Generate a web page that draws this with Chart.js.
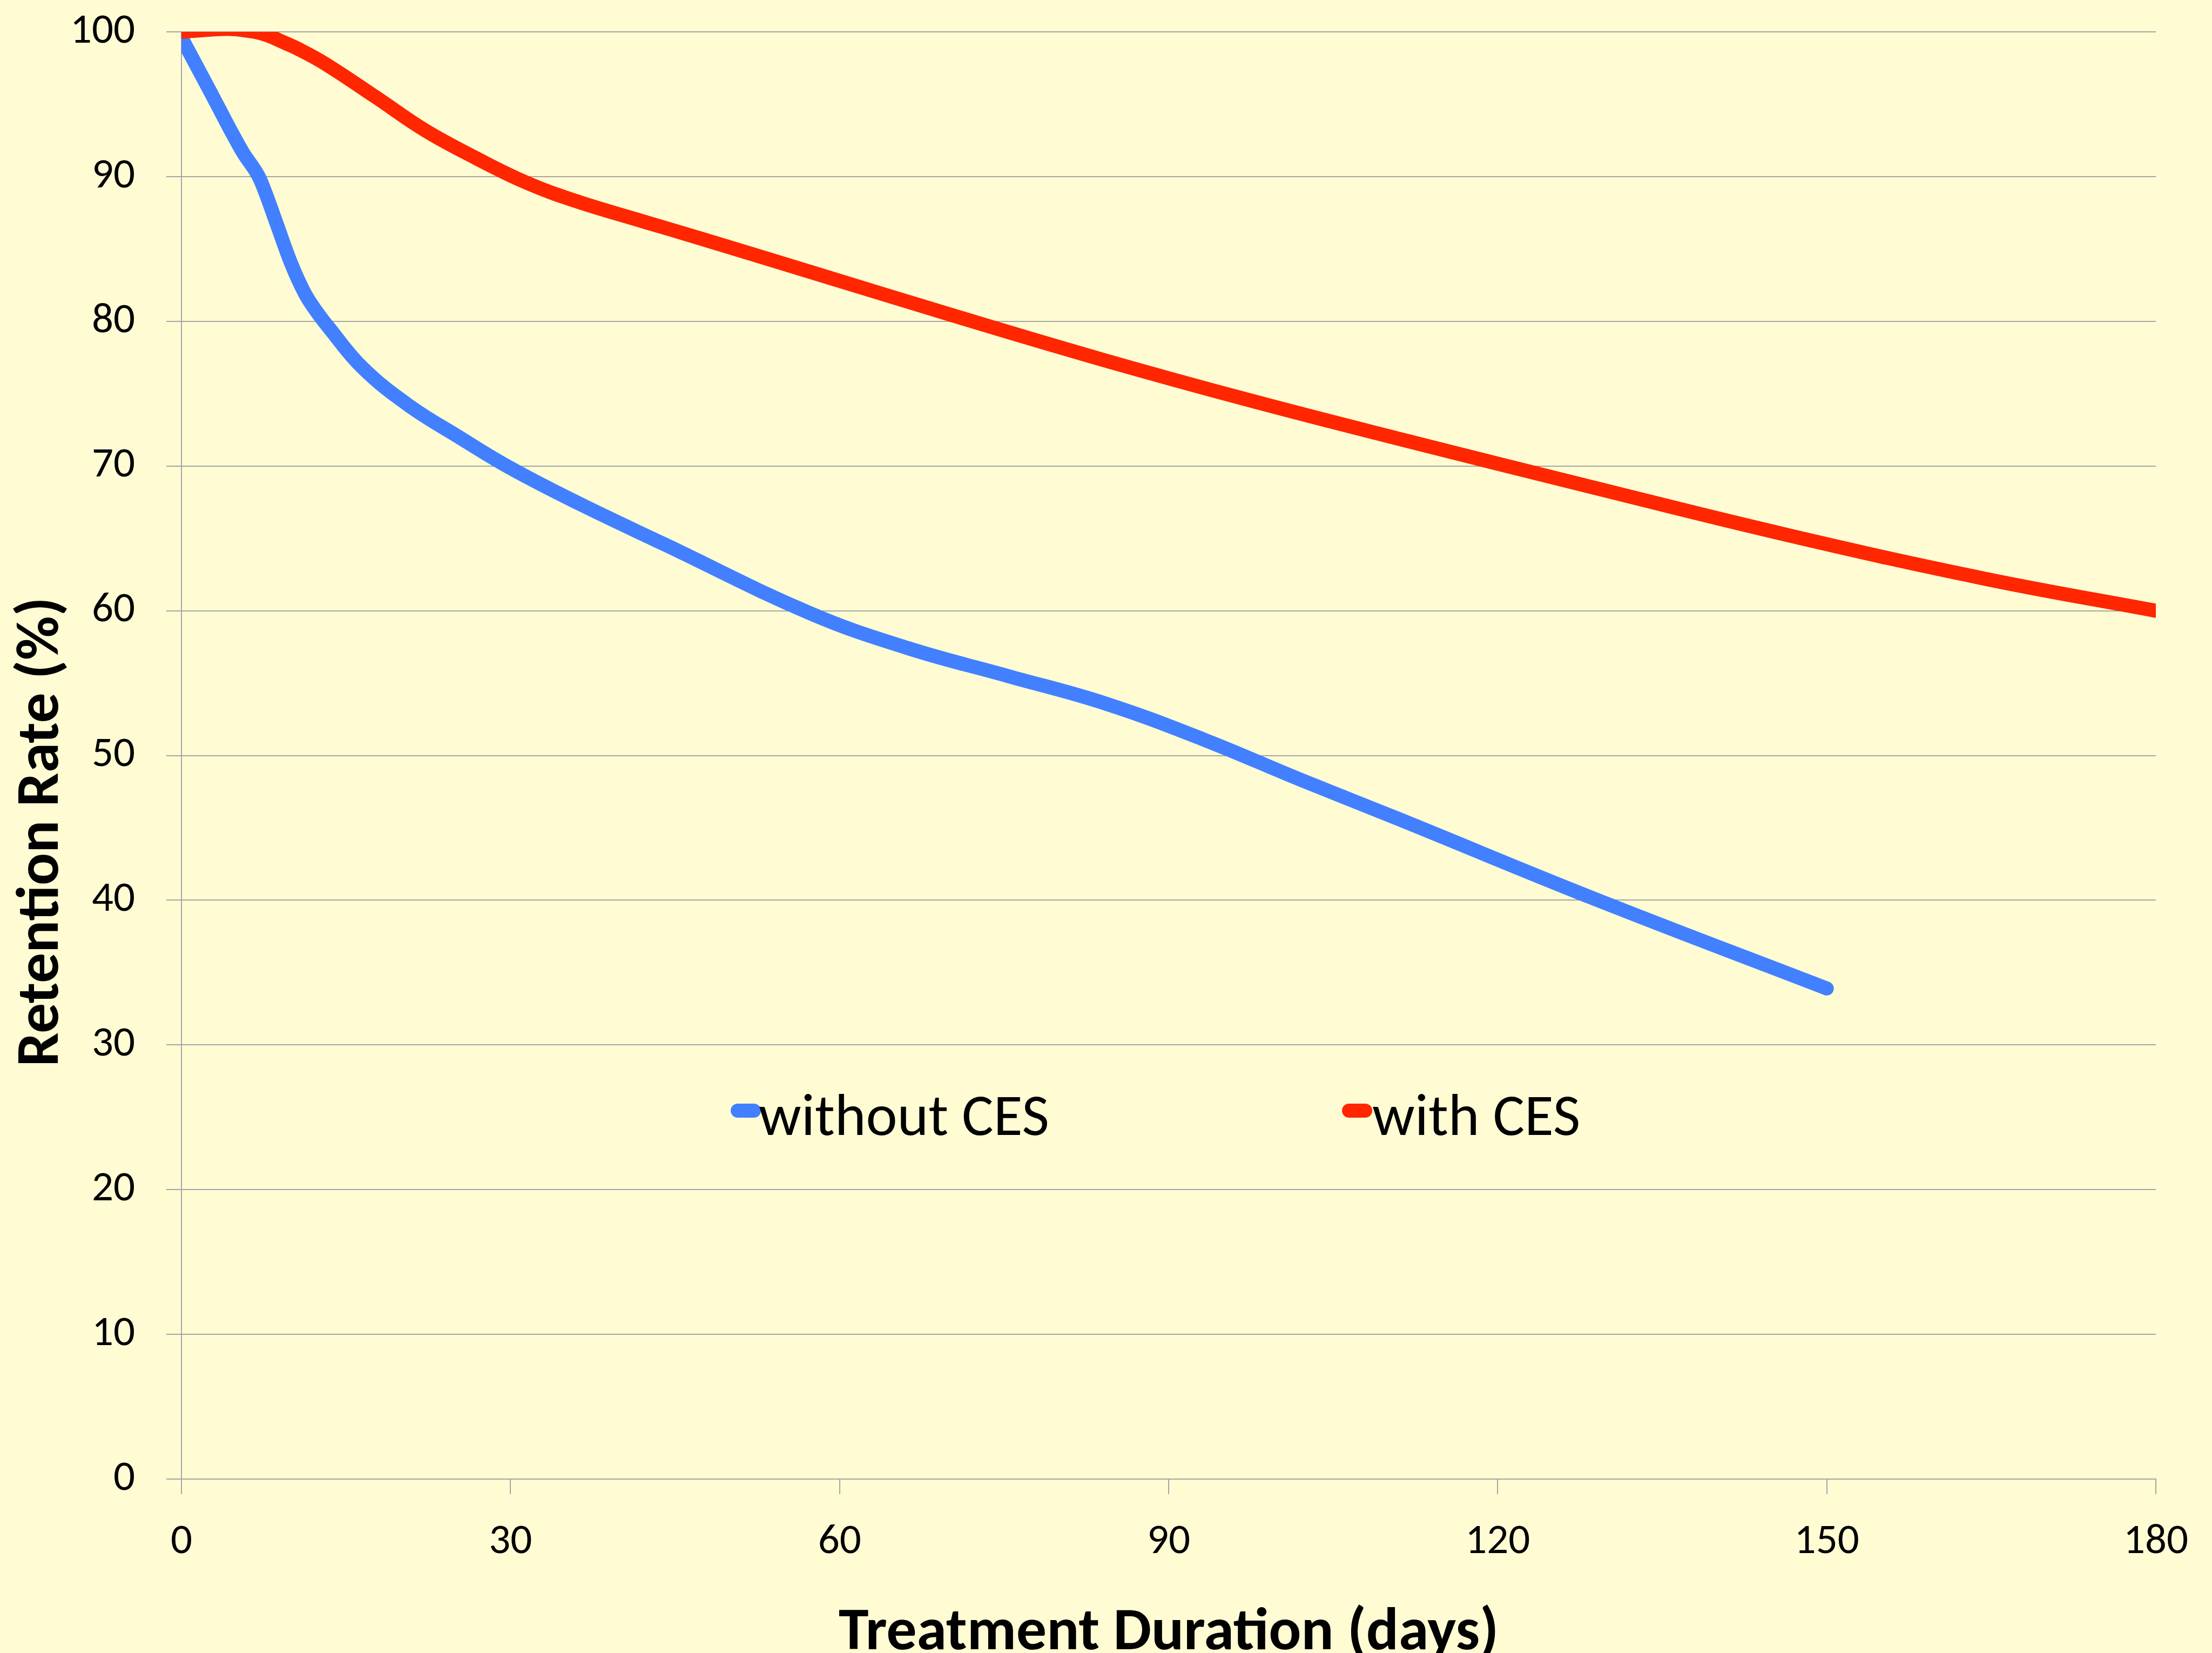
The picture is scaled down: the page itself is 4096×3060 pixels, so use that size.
<!DOCTYPE html>
<html>
<head>
<meta charset="utf-8">
<script src="https://cdn.jsdelivr.net/npm/chart.js@4.4.1/dist/chart.umd.min.js"></script>
<style>
  html, body { margin: 0; padding: 0; background: #fffcd4; }
  #wrap { width: 4096px; height: 3060px; }
</style>
</head>
<body>
<div id="wrap"><canvas id="chart" width="4096" height="3060"></canvas></div>
<script>
// values
const xTicks = [0, 30, 60, 90, 120, 150, 180];
const yTicks = [0, 10, 20, 30, 40, 50, 60, 70, 80, 90, 100];
const seriesNames = ["without CES", "with CES"];

const daysWithout = [0, 2.4, 5.5, 6.9, 7.6, 8.7, 10, 11.2, 12.2, 13.4, 16.5, 20.7, 25.3, 29.9, 36, 44,
  57.4, 66.3, 75.3, 84.2, 93.2, 102.1, 111, 128.8, 150];
const retentionWithout = [99.6, 96.2, 91.8, 90.2, 89.0, 86.7, 84.0, 82.0, 80.8, 79.6, 76.8, 74.2, 72.0, 69.9, 67.5, 64.6,
  59.8, 57.4, 55.5, 53.6, 51.1, 48.3, 45.6, 40.1, 33.9];

const daysWith = [0, 2.5, 4.6, 6.7, 7.9, 9.1, 10.7, 13.1, 17.7, 22.2, 26.8, 31.4, 36, 42.1, 47,
  57.4, 70.8, 84.2, 97.6, 110.9, 128.8, 146.6, 164.5, 180];
const retentionWith = [100, 100.15, 100.2, 100, 99.75, 99.35, 98.8, 97.8, 95.5, 93.2, 91.3, 89.6, 88.3, 86.9, 85.8,
  83.4, 80.3, 77.3, 74.5, 71.9, 68.5, 65.2, 62.2, 60.0];

const FONT = "Carlito, Lato, sans-serif";
const GRID = "#a5a5a5";
const BLUE = "#4280ff";
const RED = "#ff2600";

const toPoints = (xs, ys) => xs.map((x, i) => ({ x: x, y: ys[i] }));

const background = {
  id: "background",
  beforeDraw(chart) {
    const ctx = chart.ctx;
    ctx.save();
    ctx.fillStyle = "#fffcd4";
    ctx.fillRect(0, 0, chart.width, chart.height);
    ctx.restore();
  }
};

// legend sits inside the plot, plus the rotated y title
const extras = {
  id: "extras",
  afterDraw(chart) {
    const ctx = chart.ctx;
    ctx.save();

    const legendPos = [{ x1: 1366, x2: 1396, tx: 1405 }, { x1: 2498, x2: 2528, tx: 2541 }];
    chart.data.datasets.forEach((ds, i) => {
      const p = legendPos[i];
      ctx.strokeStyle = ds.borderColor;
      ctx.lineWidth = 26;
      ctx.lineCap = "round";
      ctx.beginPath();
      ctx.moveTo(p.x1, 2056);
      ctx.lineTo(p.x2, 2056);
      ctx.stroke();
      ctx.fillStyle = "#000";
      ctx.font = "110px " + FONT;
      ctx.textAlign = "left";
      ctx.textBaseline = "alphabetic";
      ctx.fillText(ds.label, p.tx, 2101);
    });

    ctx.translate(107, 1540);
    ctx.rotate(-Math.PI / 2);
    ctx.fillStyle = "#000";
    ctx.font = "bold 112px " + FONT;
    ctx.textAlign = "center";
    ctx.textBaseline = "alphabetic";
    ctx.fillText("Retention Rate (%)", 0, 0);
    ctx.restore();
  }
};

new Chart(document.getElementById("chart"), {
  type: "line",
  data: {
    datasets: [
      {
        label: seriesNames[0],
        data: toPoints(daysWithout, retentionWithout),
        borderColor: BLUE,
        order: 1
      },
      {
        label: seriesNames[1],
        data: toPoints(daysWith, retentionWith),
        borderColor: RED,
        order: 0
      }
    ]
  },
  options: {
    responsive: false,
    animation: false,
    devicePixelRatio: 1,
    layout: { padding: { top: 59, right: 104, left: 0, bottom: 0 } },
    datasets: {
      line: {
        borderWidth: 26,
        tension: 0.4,
        pointRadius: 0,
        borderCapStyle: "round",
        borderJoinStyle: "round",
        fill: false,
        clip: 0
      }
    },
    plugins: {
      legend: { display: false },
      tooltip: { enabled: false }
    },
    scales: {
      x: {
        type: "linear",
        min: 0,
        max: 180,
        afterBuildTicks: s => { s.ticks = xTicks.map(v => ({ value: v })); },
        afterFit: s => { s.height = 322; s.paddingLeft = 0; s.paddingRight = 0; },
        grid: { drawOnChartArea: false, drawTicks: true, tickLength: 28, color: GRID, lineWidth: 2 },
        border: { display: true, color: GRID, width: 2 },
        ticks: {
          padding: 42,
          color: "#000",
          maxRotation: 0,
          autoSkip: false,
          font: { family: FONT, size: 79 }
        },
        title: {
          display: true,
          text: "Treatment Duration (days)",
          color: "#000",
          font: { family: FONT, size: 112, weight: "bold", lineHeight: 0.6 },
          padding: { top: 0, bottom: 1 }
        }
      },
      y: {
        type: "linear",
        min: 0,
        max: 100,
        afterBuildTicks: s => { s.ticks = yTicks.map(v => ({ value: v })); },
        afterFit: s => { s.width = 336; s.paddingTop = 0; s.paddingBottom = 0; },
        grid: { color: GRID, lineWidth: 2, tickLength: 28 },
        border: { display: true, color: GRID, width: 2 },
        ticks: {
          padding: 58,
          color: "#000",
          autoSkip: false,
          font: { family: FONT, size: 79 }
        }
      }
    }
  },
  plugins: [background, extras]
});
</script>
</body>
</html>
